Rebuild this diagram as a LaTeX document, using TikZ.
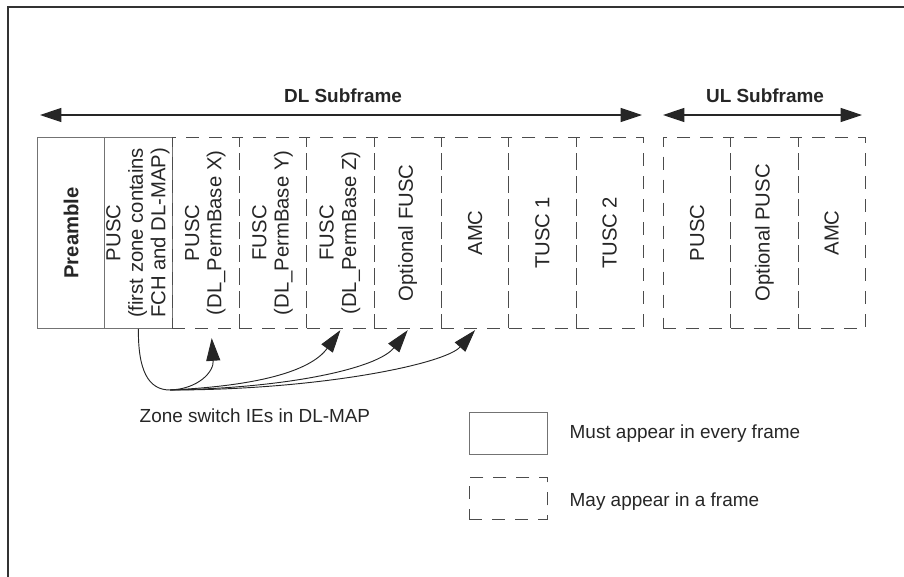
\documentclass[tikz,border=0pt]{standalone}
\usepackage{fontspec}
\setmainfont{Liberation Sans}
\usetikzlibrary{arrows.meta,calc}
\newcommand\zonefont{\fontsize{15.2}{16.8}\selectfont}
\newcommand\keyfont{\fontsize{14.2}{17}\selectfont}
\tikzset{
	frameline/.style={line width=1.6pt, color=black!80},
	mustzone/.style={draw=black!55, line width=0.6pt, anchor=north west, inner sep=0pt,
		minimum width=50.5pt, minimum height=143.25pt, text=black!85, font=\zonefont},
	mayzone/.style={mustzone, draw=black!70, dash pattern=on 9.75pt off 7.5pt},
	span/.style={line width=0.8pt, color=black!85,
		{Triangle[length=16pt,width=10.5pt]}-{Triangle[length=16pt,width=10.5pt]}},
	zswitch/.style={line width=0.7pt, color=black!85},
	zsarrow/.style={zswitch, -{Triangle[length=17pt,width=10.5pt]}},
	title/.style={font=\keyfont\bfseries, text=black!85, anchor=base},
	keytext/.style={font=\keyfont, text=black!85, anchor=base west}
}

\begin{document}
\begin{tikzpicture}[x=0.75pt, y=-0.75pt]
		%%%%% START %%%%%
		\useasboundingbox (0, 0) rectangle (904, 576);
		\draw[frameline] (8, 580) -- (8, 7) -- (908, 7);
		
		% subframe spans
		\coordinate (dlL) at (40, 115);
		\coordinate (dlR) at (642, 115);
		\coordinate (ulL) at (663, 115);
		\coordinate (ulR) at (862, 115);
		\draw[span] (dlL) -- (dlR);
		\draw[span] (ulL) -- (ulR);
		\node[title] (dltitle) at (343, 102) {DL Subframe};
		\node[title] (ultitle) at (765, 102) {UL Subframe};
		
		% DL zones
		\node[mustzone] (pre) at (37, 137) {\rotatebox{90}{\textbf{Preamble}}};
		\node[mustzone] (pusc) at (104.33, 137) {\rotatebox{90}{\begin{tabular}{@{}c@{}}PUSC\\(first zone contains\\FCH and DL-MAP)\end{tabular}}};
		\node[mayzone] (puscx) at (171.67, 137) {\rotatebox{90}{\begin{tabular}{@{}c@{}}PUSC\\(DL\_PermBase X)\end{tabular}}};
		\node[mayzone] (fuscy) at (239, 137) {\rotatebox{90}{\begin{tabular}{@{}c@{}}FUSC\\(DL\_PermBase Y)\end{tabular}}};
		\node[mayzone] (fuscz) at (306.33, 137) {\rotatebox{90}{\begin{tabular}{@{}c@{}}FUSC\\(DL\_PermBase Z)\end{tabular}}};
		\node[mayzone] (optfusc) at (373.67, 137) {\rotatebox{90}{Optional FUSC}};
		\node[mayzone] (amc) at (441, 137) {\rotatebox{90}{AMC}};
		\node[mayzone] (tusc1) at (508.33, 137) {\rotatebox{90}{TUSC 1}};
		\node[mayzone] (tusc2) at (575.67, 137) {\rotatebox{90}{TUSC 2}};
		
		% UL zones
		\node[mayzone] (ulpusc) at (663, 137) {\rotatebox{90}{PUSC}};
		\node[mayzone] (uloptpusc) at (730.33, 137) {\rotatebox{90}{Optional PUSC}};
		\node[mayzone] (ulamc) at (797.67, 137) {\rotatebox{90}{AMC}};
		
		% zone switch IEs
		\coordinate (hub) at (170, 390);
		\draw[zswitch] (pusc.south) .. controls (138, 370) and (148, 390) .. (hub);
		\draw[zsarrow] (hub) .. controls (198, 389) and (214, 372) .. ([xshift=4.5pt, yshift=-7pt]puscx.south);
		\draw[zsarrow] (hub) .. controls (255, 386) and (310, 372) .. ([yshift=-1pt]fuscz.south);
		\draw[zsarrow] (hub) .. controls (290, 388) and (378, 368) .. ([yshift=-1pt]optfusc.south);
		\draw[zsarrow] (hub) .. controls (320, 390) and (445, 364) .. ([yshift=-1pt]amc.south);
		\node[keytext] (zslbl) at (135, 422) {Zone switch IEs in DL-MAP};
		
		% key
		\node[mustzone, minimum width=58.5pt, minimum height=31.5pt] (keymust) at (469, 412) {};
		\node[mayzone, minimum width=58.5pt, minimum height=31.5pt] (keymay) at (469, 477) {};
		\node[keytext] (mustlbl) at (565, 438) {Must appear in every frame};
		\node[keytext] (maylbl) at (565, 506) {May appear in a frame};
		%%%%% END %%%%%
\end{tikzpicture}
\end{document}
